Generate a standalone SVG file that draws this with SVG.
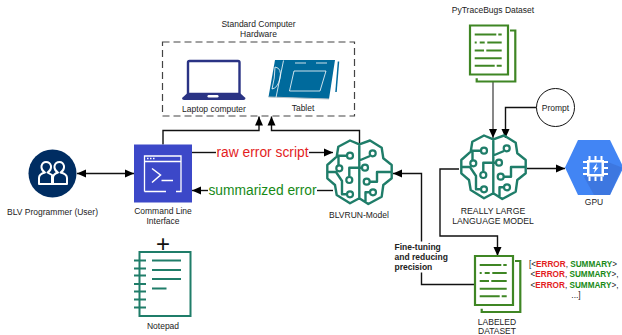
<svg xmlns="http://www.w3.org/2000/svg" width="622" height="335" viewBox="0 0 622 335">
<style>
text{font-family:"Liberation Sans",Arial,sans-serif;font-size:8.5px;fill:#222;text-anchor:middle}
.c{fill:none;stroke:#111;stroke-width:1.4}
.big{font-size:13.8px}
.b{font-weight:bold}
.l{text-anchor:start}
.br{font-size:8.2px}
.brain{fill:none;stroke:#1f7d69;stroke-width:2.4;stroke-linejoin:round}
.brainc{fill:#fff;stroke:#1f7d69;stroke-width:2.2}
.doc{fill:none;stroke:#3f8624;stroke-width:2.2}
.docl{fill:none;stroke:#3f8624;stroke-width:2}
.note{fill:none;stroke:#1f7d69;stroke-width:2}
.w{fill:none;stroke:#fff;stroke-width:1.3}
</style>
<defs>
<marker id="a" markerUnits="userSpaceOnUse" markerWidth="10" markerHeight="9" refX="9" refY="4.5" orient="auto-start-reverse"><path d="M0 0.5L9 4.5L0 8.5Z" fill="#000"/></marker>
<g id="brain">
<path class="brain" d="M34.3 4.3L25 0.5L13.3 6.7L11.7 16.7L2.3 25V38.3L10 45L11.7 55L25 63.3L34.3 58.3L43.3 64L56.7 56.7L58.3 45L66.7 38.3V25L58.3 18.3L56.7 7.7L45 0.5ZM34.3 4.3V58.3M22 15.7H13.5V25M2.3 32H11L17 41V54.3H21.5M34.3 27.7H24.3V36.5M34.3 20.5L45 16M34.3 27.7H36.5M45 41.7H52V32H66.7M44.5 52.3H40.5V62"/>
<circle class="brainc" cx="25" cy="15.7" r="3"/><circle class="brainc" cx="14.3" cy="28.3" r="3"/><circle class="brainc" cx="24.3" cy="40" r="3"/><circle class="brainc" cx="25" cy="54.3" r="3"/><circle class="brainc" cx="47.7" cy="13.3" r="3"/><circle class="brainc" cx="40" cy="27.7" r="3"/><circle class="brainc" cx="41.7" cy="41.7" r="3"/><circle class="brainc" cx="48" cy="52.3" r="3"/>
</g>
<g id="doc">
<path fill="#fff" class="doc" d="M0 0H38V49H0Z"/>
<path class="doc" d="M40 5H45.3V56H6.7V52.7"/>
<path class="docl" d="M4.7 9H26.3M28.3 9H31.7M4.7 17H6.7M9.7 17H14.7M17.3 17H31.7M4.7 25H14M16.3 25H31.7M4.7 32.7H31.7M4.7 40.3H24.7M26.7 40.3H31.7"/>
</g>
</defs>

<g id="connectors">
<path class="c" marker-end="url(#a)" marker-start="url(#a)" d="M77 173.5H134"/>
<path class="c" marker-end="url(#a)" d="M163 144.5V130.5H259V116.5"/>
<path class="c" marker-end="url(#a)" d="M359.5 145V130.5H271.5V116.5"/>
<path class="c" d="M192 152.5H216"/>
<path class="c" marker-end="url(#a)" d="M309 152.5H333"/>
<path class="c" d="M333 190.5H317"/>
<path class="c" marker-end="url(#a)" d="M208 190.5H192"/>
<path class="c" style="stroke:#555" marker-end="url(#a)" d="M493 81V138"/>
<path class="c" marker-end="url(#a)" d="M536.5 107.5H505.5V138"/>
<path class="c" marker-end="url(#a)" d="M527 168.5H565"/>
<path class="c" marker-end="url(#a)" d="M459 169H440V236H497.5V256"/>
<path class="c" marker-end="url(#a)" d="M475 284.5H421.5V173.5H393"/>
</g>

<g id="hardware">
<rect x="162.5" y="42" width="192" height="74" fill="none" stroke="#444" stroke-width="1.2" stroke-dasharray="7 4"/>
<text x="258.5" y="26.5">Standard Computer</text>
<text x="258.5" y="36.5">Hardware</text>
</g>

<g id="laptop">
<path d="M188 62.5Q188 61 189.5 61H238Q239.5 61 239.5 62.5V94H188Z" fill="none" stroke="#2a3384" stroke-width="2.4"/>
<path d="M187 93.5H240.5L245.5 98Q245.5 100 243.5 100H184Q182 100 182 98Z" fill="#2a3384"/>
<rect x="207.5" y="95" width="11" height="2.5" rx="1.2" fill="#fff"/>
<text x="214" y="111.5">Laptop computer</text>
</g>

<g id="tablet">
<path d="M275 60H335L329 99L268.5 97Z" fill="#006a9c"/>
<path d="M268.5 97L329 99" stroke="#b9c3c9" stroke-width="1.2" fill="none"/>
<path d="M338.5 61.5L336 92" stroke="#006a9c" stroke-width="1.5" fill="none"/>
<path class="w" style="stroke-width:.8" d="M283.5 60.5L276 97.5M294 71H326L320 91H289.5ZM295 63H306M316 63H327M275 67Q282 68 280 78Q278 88 272 89Q275 78 275 67Z"/>
<text x="303" y="110.5">Tablet</text>
</g>

<g id="user">
<circle cx="52.5" cy="173.5" r="24" fill="#002d62"/>
<path d="M39 184V178Q39 174 45 172.5Q41 170 41.5 166Q42.5 162 46 162Q50 162 51 166Q51.5 170 47.5 172.5L52 175V184ZM53 184H67V178Q67 174 60.5 172.5Q64.5 170 64 166Q63 162 59.5 162Q55.5 162 54.5 166Q54 170 58 172.5Q53 174 53 178Z" fill="none" stroke="#fff" stroke-width="2" stroke-linejoin="round"/>
<text x="52.5" y="214.5">BLV Programmer (User)</text>
</g>

<g id="cli">
<rect x="134" y="144.5" width="58" height="58" fill="#3c48c8"/>
<path class="w" d="M144.5 191.5V156H181V191.5H176M144.5 191.5H166M144.5 161.5H181"/>
<path d="M152 168.5L160.5 175L152 182.5M161.5 180.5H173" fill="none" stroke="#fff" stroke-width="1.5"/>
<path d="M147 158.5H148.5M150 158.5H151.5M153 158.5H154.5" stroke="#fff" stroke-width="1.5" fill="none"/>
<text x="163" y="214">Command Line</text>
<text x="163" y="224">Interface</text>
</g>

<g id="notepad">
<text x="163" y="251.5" style="font-size:24px;fill:#111">+</text>
<rect x="139.5" y="252" width="51" height="64" fill="none" stroke="#1f7d69" stroke-width="2"/>
<path class="note" d="M134 260.5H146M134 268.5H146M134 275.5H146M134 284H146M134 291.5H146M134 299.5H146M134 307.5H146"/>
<path class="note" d="M152 260.5H181M152 270H181M152 279H181M152 288.5H166.5"/>
<text x="163" y="328.5">Notepad</text>
</g>

<g id="blvrun">
<use href="#brain" x="325" y="140"/>
<text x="359" y="218">BLVRUN-Model</text>
</g>

<g id="llm">
<use href="#brain" x="459" y="135"/>
<text x="493" y="214" style="font-size:8.7px">REALLY LARGE</text>
<text x="493" y="224" style="font-size:8.7px">LANGUAGE MODEL</text>
</g>

<g id="pytracebugs">
<text x="493" y="13">PyTraceBugs Dataset</text>
<use href="#doc" x="470" y="25.5"/>
</g>

<g id="prompt">
<circle cx="555.5" cy="107.5" r="19" fill="#fff" stroke="#111" stroke-width="1"/>
<text x="555.5" y="110.5">Prompt</text>
</g>

<g id="gpu">
<path d="M565 167.5L578 140H610L623.5 167.5L610 195H578Z" fill="#4285f4"/>
<path d="M604 160.5L622 167.5L610 195H594L584 177Z" fill="#3a70d6" opacity=".65"/>
<rect x="587" y="160" width="17" height="16.5" fill="#fff"/>
<rect x="589.5" y="162.5" width="12" height="11.5" fill="#4285f4"/>
<path d="M583 162H587M604 162H608M583 168H587M604 168H608M583 174H587M604 174H608M589.5 156V160M595.5 156V160M601.5 156V160M589.5 176.5V181M595.5 176.5V181M601.5 176.5V181" stroke="#fff" stroke-width="2" fill="none"/>
<path d="M597 163L592.5 169H595L594 173L598.5 167.5H596Z" fill="#fff"/>
<text x="594" y="204.5">GPU</text>
</g>

<g id="labeled">
<use href="#doc" x="475" y="256"/>
<text x="497" y="324.5">LABELED</text>
<text x="497" y="334">DATASET</text>
<text x="529" y="267" class="l br">[&lt;<tspan class="b" style="fill:#e31d1d">ERROR</tspan>, <tspan class="b" style="fill:#178a17">SUMMARY</tspan>&gt;</text>
<text x="530.5" y="277" class="l br">&lt;<tspan class="b" style="fill:#e31d1d">ERROR</tspan>, <tspan class="b" style="fill:#178a17">SUMMARY</tspan>&gt;,</text>
<text x="530.5" y="287.5" class="l br">&lt;<tspan class="b" style="fill:#e31d1d">ERROR</tspan>, <tspan class="b" style="fill:#178a17">SUMMARY</tspan>&gt;,</text>
<text x="576" y="298">...]</text>
</g>

<g id="edge-labels">
<text x="262.5" y="156.5" class="big" style="fill:#e31d1d">raw error script</text>
<text x="262.5" y="194.5" class="big" style="fill:#178a17">summarized error</text>
<rect x="394" y="241.5" width="55" height="31" fill="#fff"/>
<text x="394.5" y="249.5" class="b l">Fine-tuning</text>
<text x="394.5" y="259.5" class="b l">and reducing</text>
<text x="394.5" y="270" class="b l">precision</text>
</g>
</svg>
